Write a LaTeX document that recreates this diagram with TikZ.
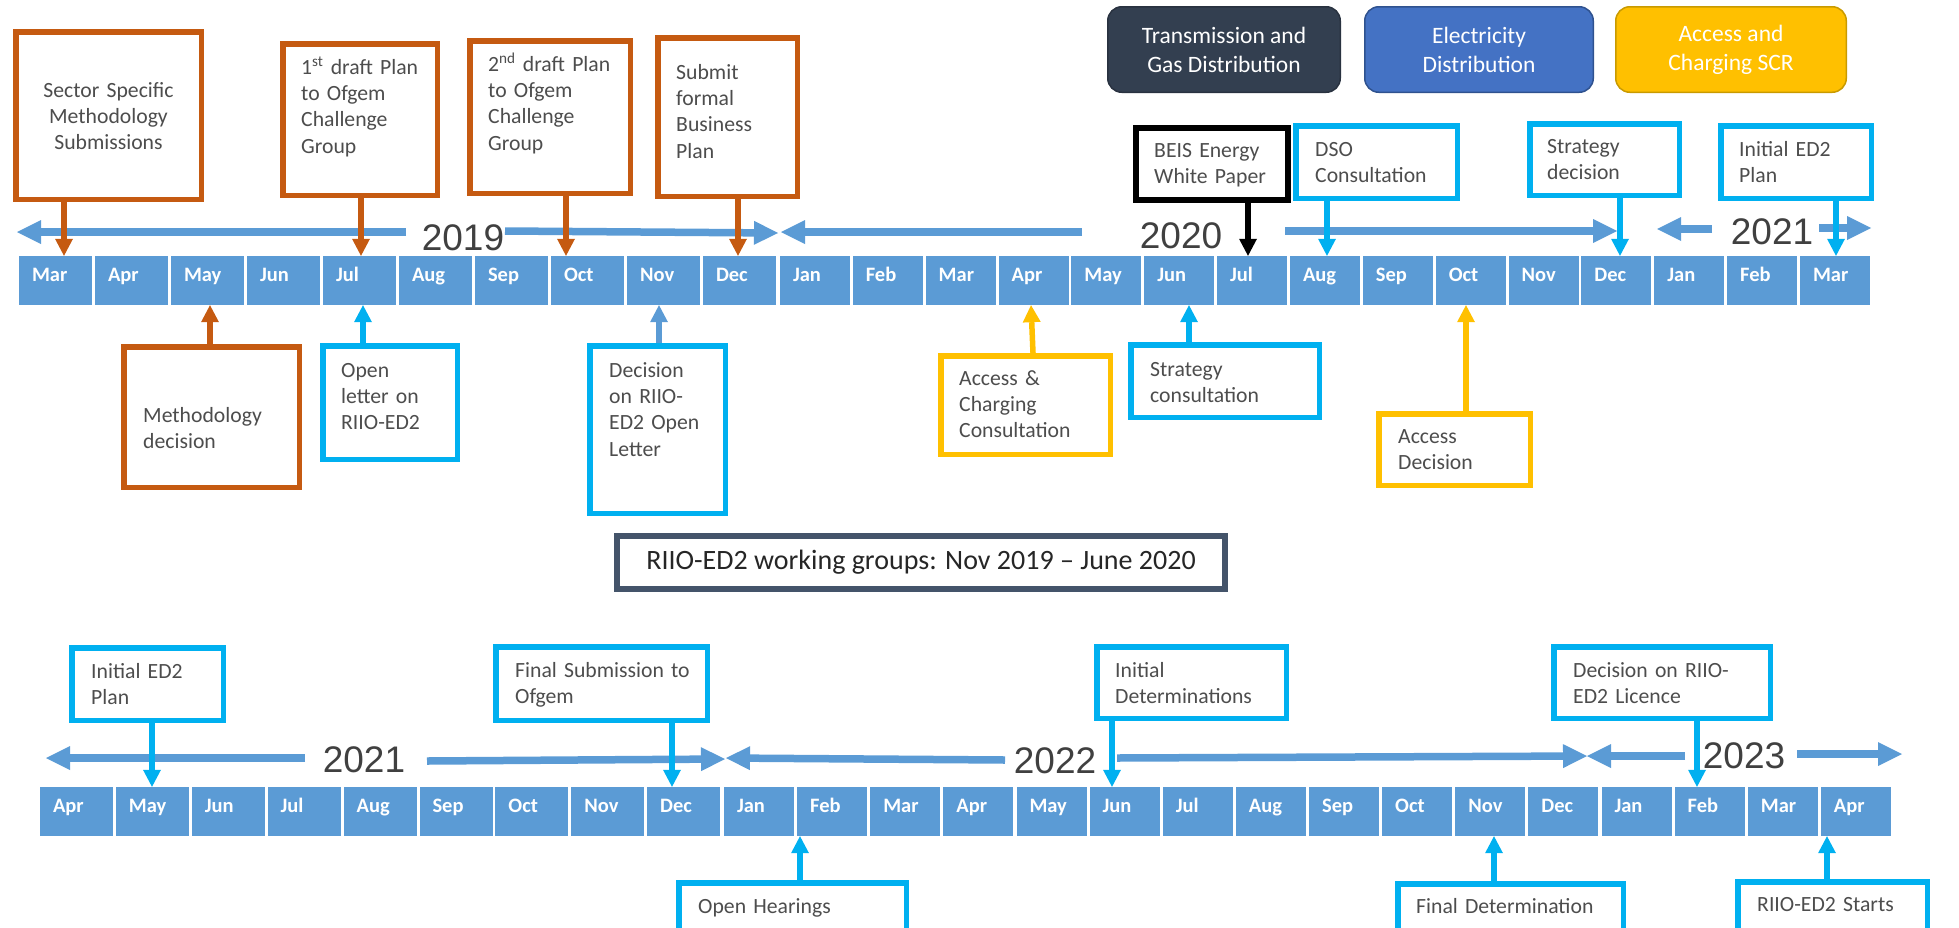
\documentclass[tikz,border=0pt]{standalone}
\usepackage{fontspec}
\setmainfont{Carlito}
\newfontfamily\yearfamily{Liberation Sans}
\usetikzlibrary{arrows.meta}

\definecolor{tlblue}{HTML}{5B9BD5}
\definecolor{orng}{HTML}{C55A11}
\definecolor{cyn}{HTML}{00B0F0}
\definecolor{ylw}{HTML}{FFC000}
\definecolor{navy}{HTML}{333F50}
\definecolor{elblue}{HTML}{4472C4}
\definecolor{elborder}{HTML}{2F528F}
\definecolor{ylwborder}{HTML}{C99A00}
\definecolor{slate}{HTML}{44546A}
\definecolor{txtgray}{HTML}{4D4D4D}
\definecolor{yeargray}{HTML}{404040}

\newcommand\monfont{\fontsize{20.5}{24}\selectfont\bfseries}
\newcommand\evfont{\fontsize{21.7}{26.4}\selectfont}
\newcommand\legfont{\fontsize{23.5}{29}\selectfont}
\newcommand\wgfont{\fontsize{28}{33}\selectfont}
\newcommand\yearfont{\yearfamily\fontsize{37}{44}\selectfont}

\tikzset{
  mon/.style={fill=tlblue, text=white, font=\monfont, align=left,
    inner xsep=13pt, inner ysep=0pt, minimum height=49pt,
    text height=7pt, text depth=6pt},
  evbox/.style={draw=#1, line width=5.5pt, fill=white, inner sep=0pt},
  evtxt/.style={font=\evfont, text=txtgray, align=left, inner sep=0pt,
    anchor=base west, text width=200pt},
  legbox/.style={rounded corners=14pt, line width=1.5pt, text=white,
    font=\legfont, align=center, minimum height=85.5pt},
  yr/.style={font=\yearfont, text=yeargray, anchor=base, inner sep=0pt},
  yarr/.style={draw=tlblue, line width=7.5pt,
    -{Triangle[width=24pt,length=24pt,line width=0pt]}},
  earr/.style={draw=#1, line width=5.5pt,
    -{Triangle[width=18pt,length=17pt,line width=0pt]}}
}

\begin{document}
\begin{tikzpicture}[x=1pt, y=-1pt]
  \useasboundingbox (0,0) rectangle (1959,927);
  \clip (0,0) rectangle (1959,927);

  % month strips
  \foreach \m [count=\i from 0] in {Mar,Apr,May,Jun,Jul,Aug,Sep,Oct,Nov,Dec}
    \node[mon, text width=47pt] (ta\i) at (55.5+\i*76, 280.5) {\m};
  \foreach \m [count=\i from 0] in {Jan,Feb,Mar,Apr,May,Jun,Jul,Aug,Sep,Oct,Nov,Dec,Jan,Feb,Mar}
    \node[mon, text width=44pt] (tb\i) at (815+\i*72.86, 280.5) {\m};
  \foreach \m [count=\i from 0] in {Apr,May,Jun,Jul,Aug,Sep,Oct,Nov,Dec}
    \node[mon, text width=47pt] (ba\i) at (76.5+\i*75.9, 811.5) {\m};
  \foreach \m [count=\i from 0] in {Jan,Feb,Mar,Apr,May,Jun,Jul,Aug,Sep,Oct,Nov,Dec,Jan,Feb,Mar,Apr}
    \node[mon, text width=44pt] (bb\i) at (759+\i*73.13, 811.5) {\m};

  % year arrows
  \foreach \xa/\ya/\xb/\yb in {406/232/17/232, 505/231/778/233, 1082/232/781/232,
      1285/231/1617/231, 1712/229/1657/229, 1819/228/1871/228,
      305/758/46/758, 427/761/725/759, 1005/760/726/758,
      1117/758/1587/756, 1685/756/1587/756, 1797/754/1902/754}
    \draw[yarr] (\xa,\ya) -- (\xb,\yb);

  \node[yr] (y19) at (463,250) {2019};
  \node[yr] (y20) at (1181,248) {2020};
  \node[yr] (y21) at (1772,244) {2021};
  \node[yr] (y21b) at (364,772) {2021};
  \node[yr] (y22) at (1055,773) {2022};
  \node[yr] (y23) at (1744,768) {2023};

  % key
  \node[legbox, fill=navy, draw=navy!80!black, minimum width=232.5pt] (tgd) at (1224,49.5) {Transmission and\\Gas Distribution};
  \node[legbox, fill=elblue, draw=elborder, minimum width=228.5pt] (eld) at (1479,49.5) {Electricity\\Distribution};
  \node[legbox, fill=ylw, draw=ylwborder, minimum width=230.5pt] (scr) at (1731,49.5) {Access and\\Charging SCR};

  % event boxes, top row
  \node[evbox=orng, minimum width=185.5pt, minimum height=167.5pt] (ssm) at (108.5,115.5) {};
  \node[evbox=orng, minimum width=154.5pt, minimum height=151.5pt] (dp1) at (360,119.5) {};
  \node[evbox=orng, minimum width=160.5pt, minimum height=152.5pt] (dp2) at (550,117) {};
  \node[evbox=orng, minimum width=139.5pt, minimum height=158.5pt] (sbp) at (727.5,117) {};
  \node[evbox=orng, minimum width=175.5pt, minimum height=140.5pt] (mdec) at (211.5,417) {};
  \node[evbox=cyn, minimum width=134.5pt, minimum height=113.5pt] (opl) at (390,402.5) {};
  \node[evbox=cyn, minimum width=135.5pt, minimum height=167.5pt] (dol) at (657.5,429.5) {};
  \node[evbox=ylw, minimum width=169.5pt, minimum height=98.5pt] (acc) at (1025.5,405) {};
  \node[evbox=cyn, minimum width=188.5pt, minimum height=72.5pt] (scon) at (1225,381) {};
  \node[evbox=ylw, minimum width=151.5pt, minimum height=71.5pt] (adec) at (1454.5,449.5) {};
  \node[evbox=black, line width=6pt, minimum width=152pt, minimum height=72pt] (beis) at (1212,164) {};
  \node[evbox=cyn, minimum width=161.5pt, minimum height=72.5pt] (dso) at (1376.5,162) {};
  \node[evbox=cyn, minimum width=149.5pt, minimum height=71.5pt] (sdec) at (1604.5,159.5) {};
  \node[evbox=cyn, minimum width=150.5pt, minimum height=72.5pt] (ied) at (1796,162) {};

  \node[evbox=slate, line width=6pt, minimum width=608pt, minimum height=53pt,
    font=\wgfont, text=black!85] (wg) at (921,562.5) {RIIO-ED2 working groups: Nov 2019 -- June 2020};

  % event boxes, bottom row
  \node[evbox=cyn, minimum width=151.5pt, minimum height=72.5pt] (iedb) at (147.5,684) {};
  \node[evbox=cyn, minimum width=211.5pt, minimum height=73.5pt] (fsub) at (601.5,683.5) {};
  \node[evbox=cyn, minimum width=227.5pt, minimum height=74.5pt] (ohear) at (792.5,920) {};
  \node[evbox=cyn, minimum width=189.5pt, minimum height=71.5pt] (idet) at (1191.5,682.5) {};
  \node[evbox=cyn, minimum width=216.5pt, minimum height=71.5pt] (dlic) at (1662,682.5) {};
  \node[evbox=cyn, minimum width=225.5pt, minimum height=74.5pt] (fdet) at (1510.5,921) {};
  \node[evbox=cyn, minimum width=189.5pt, minimum height=74.5pt] (start) at (1832.5,919) {};

  % connectors
  \draw[earr=orng] (64,0 |- ssm.south) -- (64,0 |- ta0.north);
  \draw[earr=orng] (361,0 |- dp1.south) -- (361,0 |- ta4.north);
  \draw[earr=orng] (566,0 |- dp2.south) -- (566,0 |- ta7.north);
  \draw[earr=orng] (738,0 |- sbp.south) -- (738,0 |- ta9.north);
  \draw[earr=orng] (210,0 |- mdec.north) -- (210,0 |- ta2.south);
  \draw[earr=cyn] (363,0 |- opl.north) -- (363,0 |- ta4.south);
  \draw[earr=tlblue] (659,0 |- dol.north) -- (659,0 |- ta8.south);
  \draw[earr=ylw] (1033,0 |- acc.north) -- (1031,0 |- tb3.south);
  \draw[earr=cyn] (1189,0 |- scon.north) -- (1189,0 |- tb5.south);
  \draw[earr=ylw] (1466,0 |- adec.north) -- (1466,0 |- tb9.south);
  \draw[earr=black] (1248,0 |- beis.south) -- (1248,0 |- tb6.north);
  \draw[earr=cyn] (1327,0 |- dso.south) -- (1327,0 |- tb7.north);
  \draw[earr=cyn] (1620,0 |- sdec.south) -- (1620,0 |- tb11.north);
  \draw[earr=cyn] (1836,0 |- ied.south) -- (1836,0 |- tb14.north);
  \draw[earr=cyn] (152,0 |- iedb.south) -- (152,0 |- ba1.north);
  \draw[earr=cyn] (672,0 |- fsub.south) -- (672,0 |- ba8.north);
  \draw[earr=cyn] (800,0 |- ohear.north) -- (800,0 |- bb1.south);
  \draw[earr=cyn] (1112,0 |- idet.south) -- (1112,0 |- bb5.north);
  \draw[earr=cyn] (1697,0 |- dlic.south) -- (1697,0 |- bb13.north);
  \draw[earr=cyn] (1494,0 |- fdet.north) -- (1494,0 |- bb10.south);
  \draw[earr=cyn] (1827,0 |- start.north) -- (1827,0 |- bb15.south);

  % box texts
  \node[evtxt, anchor=base, align=center] at (108.5,97) {Sector Specific\\Methodology\\Submissions};
  \node[evtxt] at (301,74) {1\textsuperscript{st} draft Plan\\to Ofgem\\Challenge\\Group};
  \node[evtxt] at (488,71) {2\textsuperscript{nd} draft Plan\\to Ofgem\\Challenge\\Group};
  \node[evtxt] at (676,79) {Submit\\formal\\Business\\Plan};
  \node[evtxt] at (143,422) {Methodology\\decision};
  \node[evtxt] at (341,377) {Open\\letter on\\RIIO-ED2};
  \node[evtxt] at (609,377) {Decision\\on RIIO-\\ED2 Open\\Letter};
  \node[evtxt] at (959,385) {Access \&\\Charging\\Consultation};
  \node[evtxt] at (1150,376) {Strategy\\consultation};
  \node[evtxt] at (1398,443) {Access\\Decision};
  \node[evtxt] at (1154,157) {BEIS Energy\\White Paper};
  \node[evtxt] at (1315,156) {DSO\\Consultation};
  \node[evtxt] at (1547,153) {Strategy\\decision};
  \node[evtxt] at (1739,156) {Initial ED2\\Plan};
  \node[evtxt] at (91,678) {Initial ED2\\Plan};
  \node[evtxt] at (515,677) {Final Submission to\\Ofgem};
  \node[evtxt] at (698,913) {Open Hearings};
  \node[evtxt] at (1115,677) {Initial\\Determinations};
  \node[evtxt] at (1573,677) {Decision on RIIO-\\ED2 Licence};
  \node[evtxt] at (1416,913) {Final Determination};
  \node[evtxt] at (1757,911) {RIIO-ED2 Starts};
\end{tikzpicture}
\end{document}
